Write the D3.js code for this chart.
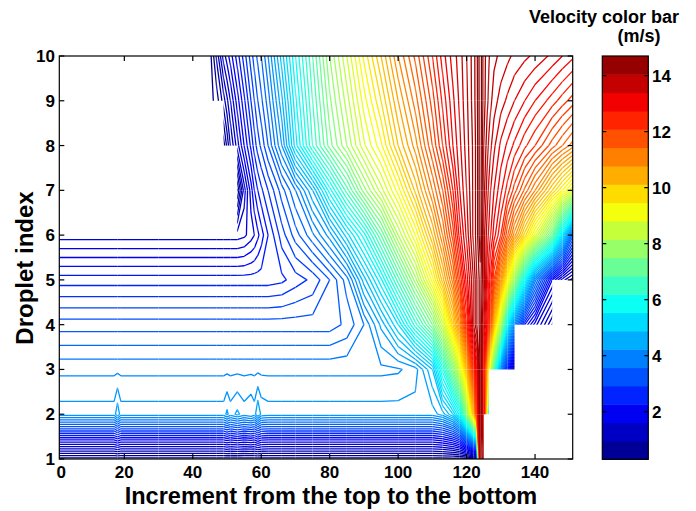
<!DOCTYPE html>
<html><head><meta charset="utf-8">
<script src="https://cdn.jsdelivr.net/npm/d3@7"></script>
<style>
body{margin:0;background:#fff}
svg{display:block}
text{font-family:"Liberation Sans",Arial,Helvetica,sans-serif;font-weight:bold;fill:#000}
</style>
</head><body>
<svg id="chart" width="696" height="511"></svg>
<script>
const N = NaN;
// increment positions (columns) at which velocities were read
const incrementKnots = [1,17,18,19,30,45,47,49,50,51,53,55,57,58,59,60,62,66,70,75,80,85,90,95,100,105,110,113,116,118,120,122,123,124,125,126,126.5,127,128,130,132,134,137,140,145,148,151];
const dropletIndex = [1,2,3,4,5,6,7,8,9,10];
// velocity (m/s) for each droplet at each increment; NaN = no data
const velocityDroplet1 = [0.3,0.3,0.3,0.3,0.3,0.3,0.3,0.3,0.3,0.3,0.3,0.3,0.3,0.3,0.3,0.3,0.3,0.3,0.3,0.3,0.3,0.3,0.3,0.3,0.3,0.3,0.3,0.3,0.3,0.3,0.3,0.3,0.4,14.5,14.0,N,N,N,N,N,N,N,N,N,N,N,N];
const velocityDroplet2 = [4.3,4.3,4.55,4.3,4.3,4.3,4.3,4.3,4.45,4.3,4.45,4.3,4.4,4.3,4.6,4.35,4.3,4.3,4.3,4.3,4.3,4.3,4.3,4.3,4.3,4.3,4.3,4.5,5.0,5.7,7.5,10.2,12.0,14.5,13.0,8.0,3.0,N,N,N,N,N,N,N,N,N,N];
const velocityDroplet3 = [3.95,3.95,3.95,3.95,3.95,3.95,3.95,3.95,3.95,3.95,3.95,3.95,3.95,3.95,3.95,3.95,3.95,3.95,3.95,3.95,3.95,3.95,3.95,3.95,3.97,4.1,4.8,6.1,7.5,8.7,10.3,12.2,13.2,14.5,12.5,10.2,9.3,8.4,6.6,4.0,2.4,1.0,N,N,N,N,N];
const velocityDroplet4 = [3.3,3.3,3.3,3.3,3.3,3.3,3.3,3.3,3.3,3.3,3.3,3.3,3.3,3.3,3.3,3.3,3.3,3.3,3.3,3.3,3.3,3.45,3.8,4.45,5.2,6.3,7.4,8.5,10.0,11.0,12.4,13.8,14.2,14.5,13.6,12.9,12.3,11.6,10.2,8.1,5.4,4.0,2.4,1.7,0.8,N,N];
const velocityDroplet5 = [2.5,2.5,2.5,2.5,2.5,2.5,2.5,2.5,2.5,2.5,2.5,2.5,2.5,2.5,2.5,2.5,2.5,2.55,2.7,2.85,3.2,3.7,4.7,5.55,6.7,7.9,9.3,10.3,11.3,12.2,13.1,13.8,14.2,14.5,14.0,13.3,13.0,12.7,12.0,10.8,9.3,7.8,5.7,3.9,2.0,1.3,0.9];
const velocityDroplet6 = [1.5,1.5,1.5,1.5,1.5,1.5,1.5,1.5,1.5,1.5,1.5,1.55,1.7,1.8,1.95,2.1,2.4,2.9,3.3,3.75,4.3,5.1,5.9,7.0,8.2,9.2,10.4,11.2,12.1,12.9,13.45,14.05,14.3,14.75,13.9,13.5,13.35,13.2,12.9,12.4,11.6,10.9,9.9,8.9,7.2,5.3,3.5];
const velocityDroplet7 = [N,N,N,N,N,N,N,N,N,N,0.4,1.3,1.9,2.2,2.4,2.55,2.8,3.3,3.8,4.6,5.7,6.7,7.7,8.5,9.3,10.25,11.2,11.8,12.6,13.2,13.6,14.05,14.3,14.75,14.1,13.7,13.55,13.4,13.2,12.85,12.5,12.1,11.55,11.0,10.0,9.4,8.8];
const velocityDroplet8 = [N,N,N,N,N,N,N,0.3,0.65,1.0,1.5,2.0,2.45,2.7,2.9,3.05,3.4,4.2,5.3,6.4,7.3,8.0,8.75,9.35,10.2,10.9,11.8,12.4,13.0,13.35,13.7,14.05,14.3,14.75,14.2,13.9,13.75,13.65,13.45,13.15,12.95,12.75,12.45,12.2,11.7,11.4,11.1];
const velocityDroplet9 = [N,N,N,N,N,0.3,0.5,0.9,1.15,1.4,1.9,2.35,2.8,3.0,3.2,3.35,3.7,4.55,5.55,6.6,7.55,8.3,9.1,9.8,10.6,11.3,12.1,12.65,13.15,13.45,13.75,14.1,14.33,14.75,14.3,14.05,13.95,13.85,13.7,13.5,13.35,13.2,13.0,12.8,12.5,12.3,12.1];
const velocityDroplet10 = [N,N,N,N,N,0.3,0.85,1.5,1.7,1.9,2.3,2.7,3.1,3.3,3.45,3.6,4.0,4.9,5.8,6.8,7.8,8.6,9.45,10.2,11.0,11.65,12.4,12.9,13.3,13.5,13.8,14.1,14.35,14.75,14.3,14.1,14.02,13.95,13.85,13.75,13.65,13.55,13.45,13.35,13.15,13.0,12.85];

const xTicks = [0,20,40,60,80,100,120,140];
const yTicks = [1,2,3,4,5,6,7,8,9,10];
const colorbarTicks = [2,4,6,8,10,12,14];
const colorRange = [0.3, 14.7];
const levelStart = 0.4, levelStep = 0.2;
const colorbarBands = 22;
const xLabel = "Increment from the top to the bottom";
const yLabel = "Droplet index";
const cbTitle1 = "Velocity color bar", cbTitle2 = "(m/s)";

const rows = [velocityDroplet1,velocityDroplet2,velocityDroplet3,velocityDroplet4,velocityDroplet5,
              velocityDroplet6,velocityDroplet7,velocityDroplet8,velocityDroplet9,velocityDroplet10];
const nx = incrementKnots.length, ny = rows.length;

const svg = d3.select("#chart");
const P = {left:59.3, right:572.7, top:56, bottom:459};
const x = d3.scaleLinear().domain([1,151]).range([P.left,P.right]);
const y = d3.scaleLinear().domain([1,10]).range([P.bottom,P.top]);
const idxToX = d3.scaleLinear().domain(d3.range(nx)).range(incrementKnots);
const idxToY = d3.scaleLinear().domain(d3.range(ny)).range(dropletIndex);

const jet = d3.scaleLinear().domain([0,0.125,0.375,0.625,0.875,1])
  .range(["#000080","#0000ff","#00ffff","#ffff00","#ff0000","#800000"]).clamp(true);
const color = v => jet((v-colorRange[0])/(colorRange[1]-colorRange[0]));

// clip to cells whose four corners have data
const clip = svg.append("defs").append("clipPath").attr("id","valid");
for (let j=0;j<ny-1;j++) for (let i=0;i<nx-1;i++) {
  const a=rows[j][i], b=rows[j][i+1], c=rows[j+1][i], d=rows[j+1][i+1];
  if ([a,b,c,d].some(v=>isNaN(v))) continue;
  const x0=x(incrementKnots[i]), x1=x(incrementKnots[i+1]);
  const y0=y(dropletIndex[j+1]), y1=y(dropletIndex[j]);
  clip.append("rect").attr("x",x0-0.02).attr("y",y0-0.02).attr("width",x1-x0+0.04).attr("height",y1-y0+0.04);
}

const flat = [];
for (let j=0;j<ny;j++) for (let i=0;i<nx;i++) { const v=rows[j][i]; flat.push(isNaN(v)?0:v); }
const levels = d3.range(levelStart, colorRange[1]-0.05, levelStep);
const contours = d3.contours().size([nx,ny]).thresholds(levels)(flat);
const toPx = p => [x(idxToX(p[0]-0.5)), y(idxToY(p[1]-0.5))];
const line = d3.line();

const g = svg.append("g").attr("clip-path","url(#valid)");
contours.forEach(c => {
  let dstr = "";
  c.coordinates.forEach(poly => poly.forEach(ring => { dstr += line(ring.map(toPx)) + "Z"; }));
  if (dstr) g.append("path").attr("d",dstr).attr("fill","none")
    .attr("stroke",color(c.value)).attr("stroke-width",1.3).attr("stroke-linejoin","round");
});

// axes box
svg.append("rect").attr("x",P.left).attr("y",P.top).attr("width",P.right-P.left).attr("height",P.bottom-P.top)
  .attr("fill","none").attr("stroke","#000").attr("stroke-width",1.2);
const tl = 5;
xTicks.forEach(t => {
  const px = t < 1 ? P.left + 2 : x(t);
  if (t >= 1) {
    svg.append("line").attr("x1",px).attr("x2",px).attr("y1",P.bottom).attr("y2",P.bottom-tl).attr("stroke","#000").attr("stroke-width",1.2);
    svg.append("line").attr("x1",px).attr("x2",px).attr("y1",P.top).attr("y2",P.top+tl).attr("stroke","#000").attr("stroke-width",1.2);
  }
  svg.append("text").attr("x",px).attr("y",478).attr("text-anchor","middle").attr("font-size",17).text(t);
});
yTicks.forEach(t => {
  const py = y(t);
  svg.append("line").attr("x1",P.left).attr("x2",P.left+tl).attr("y1",py).attr("y2",py).attr("stroke","#000").attr("stroke-width",1.2);
  svg.append("line").attr("x1",P.right).attr("x2",P.right-tl).attr("y1",py).attr("y2",py).attr("stroke","#000").attr("stroke-width",1.2);
  svg.append("text").attr("x",55).attr("y",py+6).attr("text-anchor","end").attr("font-size",17).text(t);
});
svg.append("text").attr("x",331).attr("y",504).attr("text-anchor","middle").attr("font-size",23.5).text(xLabel);
svg.append("text").attr("transform","translate(33,268) rotate(-90)").attr("text-anchor","middle").attr("font-size",24).text(yLabel);

// colorbar
const CB = {left:602.3, right:648.3, top:56, bottom:459.3};
const cy = d3.scaleLinear().domain(colorRange).range([CB.bottom, CB.top]);
const bandW = (colorRange[1]-colorRange[0])/colorbarBands;
d3.range(colorbarBands).forEach(k => {
  const v0 = colorRange[0]+k*bandW, v1 = v0+bandW;
  svg.append("rect").attr("x",CB.left).attr("y",cy(v1)).attr("width",CB.right-CB.left).attr("height",cy(v0)-cy(v1)+0.5)
    .attr("fill",color(v0+bandW/2));
});
svg.append("rect").attr("x",CB.left).attr("y",CB.top).attr("width",CB.right-CB.left).attr("height",CB.bottom-CB.top)
  .attr("fill","none").attr("stroke","#000").attr("stroke-width",1.2);
colorbarTicks.forEach(t => {
  const py = cy(t);
  svg.append("line").attr("x1",CB.left).attr("x2",CB.left+4).attr("y1",py).attr("y2",py).attr("stroke","#000").attr("stroke-width",1.2);
  svg.append("line").attr("x1",CB.right).attr("x2",CB.right-4).attr("y1",py).attr("y2",py).attr("stroke","#000").attr("stroke-width",1.2);
  svg.append("text").attr("x",652).attr("y",py+6).attr("font-size",17).text(t);
});
svg.append("text").attr("x",679).attr("y",23).attr("text-anchor","end").attr("font-size",18).text(cbTitle1);
svg.append("text").attr("x",639).attr("y",42).attr("text-anchor","middle").attr("font-size",18).text(cbTitle2);
</script>
</body></html>
